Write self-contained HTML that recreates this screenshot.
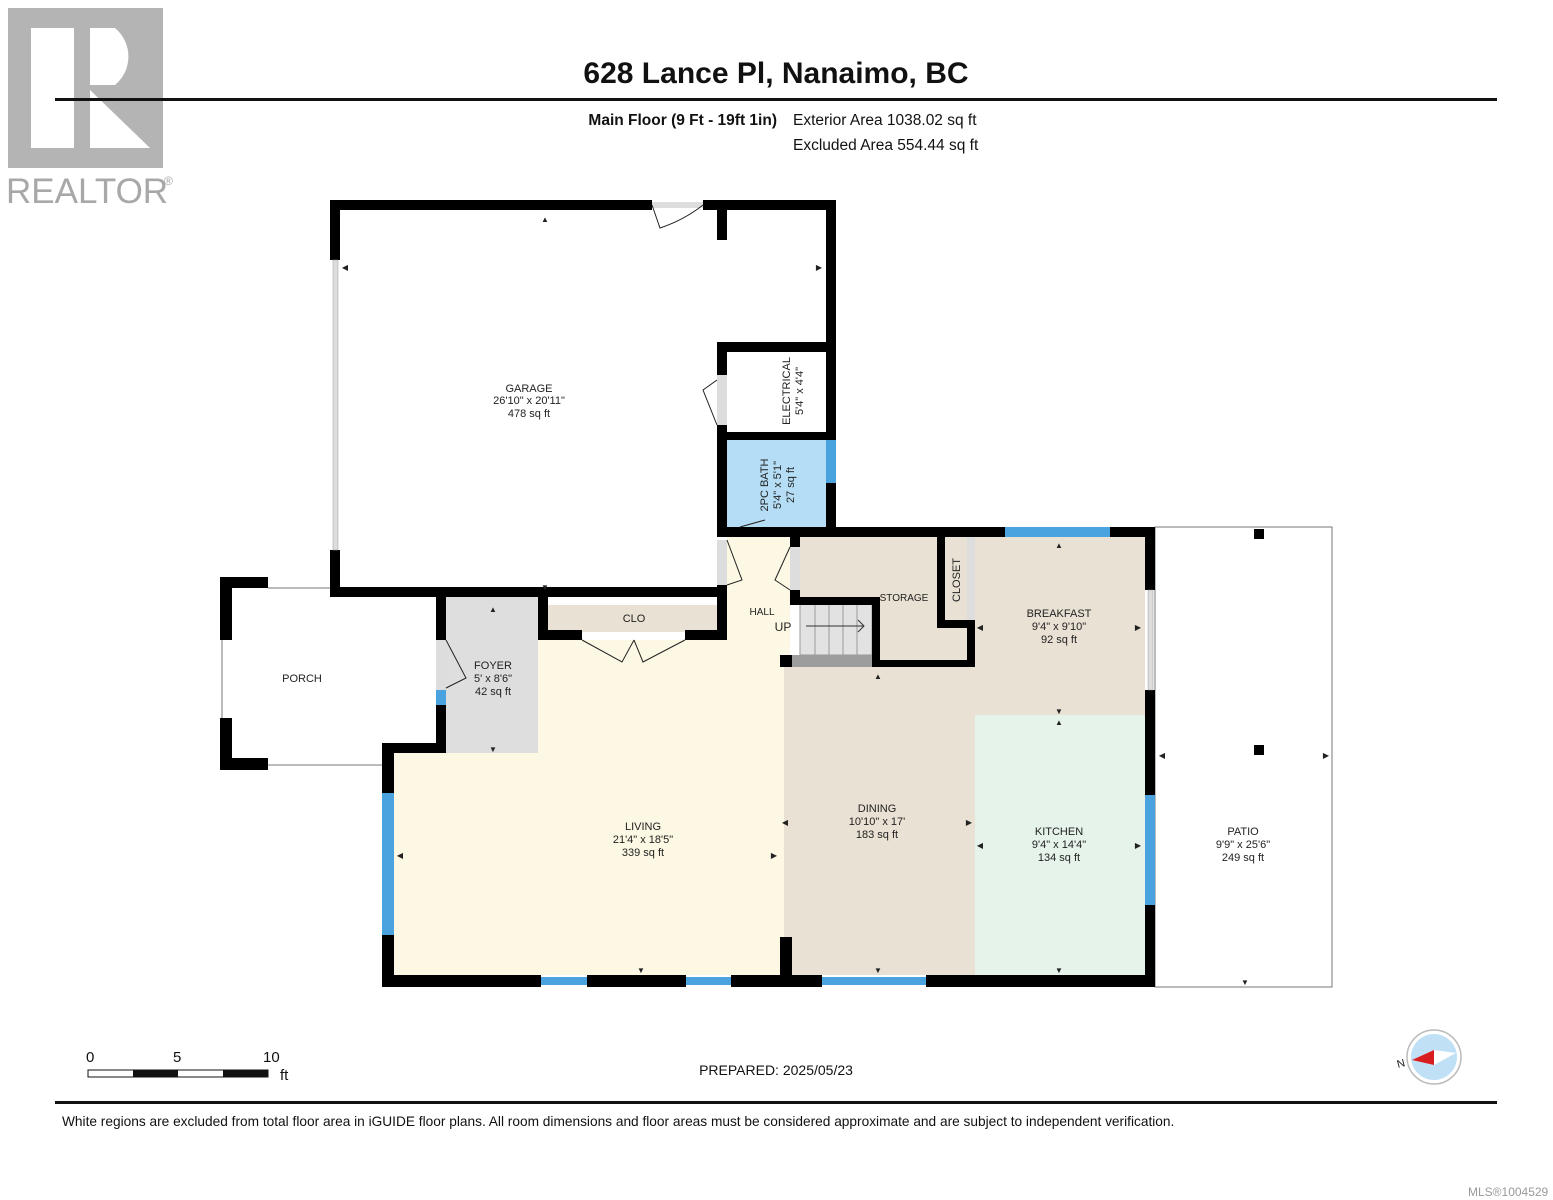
<!DOCTYPE html>
<html><head><meta charset="utf-8"><style>
html,body{margin:0;padding:0;background:#fff;}
svg{display:block;font-family:"Liberation Sans",Arial,sans-serif;}
</style></head><body>
<svg width="1553" height="1200" viewBox="0 0 1553 1200" xmlns="http://www.w3.org/2000/svg">
<rect width="1553" height="1200" fill="#fff"/>
<rect x="8" y="8" width="155" height="160" fill="#b4b4b4"/>
<rect x="31" y="28" width="43" height="120" fill="#fff"/>
<path d="M90 28 H115 A37 37 0 0 1 115 85 H90 Z" fill="#fff"/>
<path d="M90 90 L150 148 H90 Z" fill="#fff"/>
<text x="6" y="203" font-size="35" fill="#a8a8a8">REALTOR</text>
<text x="164" y="185" font-size="12" fill="#a8a8a8">®</text>
<text x="776" y="83" font-size="30" font-weight="bold" text-anchor="middle" fill="#111">628 Lance Pl, Nanaimo, BC</text>
<rect x="55" y="98" width="1442" height="3" fill="#111"/>
<text x="777" y="125" font-size="15.5" font-weight="bold" text-anchor="end" fill="#111">Main Floor (9 Ft - 19ft 1in)</text>
<text x="793" y="125" font-size="15.5" fill="#111">Exterior Area 1038.02 sq ft</text>
<text x="793" y="150" font-size="15.5" fill="#111">Excluded Area 554.44 sq ft</text>

<rect x="727" y="440" width="99" height="87" fill="#b5def6"/>
<rect x="394" y="753" width="390" height="222" fill="#fdf8e3"/>
<rect x="538" y="640" width="246" height="113" fill="#fdf8e3"/>
<rect x="727" y="537" width="63" height="128" fill="#fdf8e3"/>
<rect x="446" y="597" width="92" height="156" fill="#dedede"/>
<rect x="548" y="605" width="169" height="27" fill="#e9e1d3"/>
<rect x="784" y="667" width="191" height="308" fill="#e9e1d3"/>
<rect x="800" y="537" width="167" height="123" fill="#e9e1d3"/>
<rect x="975" y="537" width="170" height="178" fill="#e9e1d3"/>
<rect x="975" y="715" width="170" height="260" fill="#e6f3ea"/>
<rect x="800" y="600" width="72" height="55" fill="#e2e2e2" stroke="#999" stroke-width="1"/>
<g stroke="#999" stroke-width="1"><line x1="815" y1="600" x2="815" y2="655"/><line x1="829" y1="600" x2="829" y2="655"/><line x1="843" y1="600" x2="843" y2="655"/><line x1="857" y1="600" x2="857" y2="655"/></g>
<line x1="806" y1="626" x2="864" y2="626" stroke="#333" stroke-width="1"/>
<path d="M858 620 L864 626 L858 632" fill="none" stroke="#333"/>
<rect x="792" y="655" width="80" height="12" fill="#9d9d9d"/>
<rect x="780" y="655" width="12" height="12" fill="#000"/>

<rect x="1155" y="527" width="177" height="460" fill="none" stroke="#777" stroke-width="1"/>
<rect x="1254" y="529" width="10" height="10" fill="#000"/>
<rect x="1254" y="745" width="10" height="10" fill="#000"/>

<g fill="#000">
<rect x="220" y="577" width="48" height="11"/><rect x="220" y="577" width="12" height="63"/>
<rect x="220" y="718" width="12" height="52"/><rect x="220" y="758" width="48" height="12"/>
</g>
<g stroke="#777" stroke-width="1"><line x1="268" y1="588" x2="330" y2="588"/><line x1="222" y1="640" x2="222" y2="718"/><line x1="268" y1="765" x2="382" y2="765"/></g>

<g fill="#000">
<rect x="330" y="200" width="322" height="10"/>
<rect x="703" y="200" width="133" height="10"/>
<rect x="330" y="200" width="10" height="60"/>
<rect x="330" y="550" width="10" height="47"/>
<rect x="826" y="200" width="10" height="337"/>
<rect x="717" y="200" width="10" height="40"/>
<rect x="330" y="587" width="397" height="10"/>
<rect x="717" y="342" width="119" height="10"/>
<rect x="717" y="342" width="10" height="33"/>
<rect x="717" y="425" width="10" height="112"/>
<rect x="717" y="432" width="119" height="8"/>
<rect x="717" y="527" width="288" height="10"/>
<rect x="1110" y="527" width="45" height="10"/>
<rect x="1145" y="527" width="10" height="63"/>
<rect x="1145" y="690" width="10" height="105"/>
<rect x="1145" y="905" width="10" height="82"/>
<rect x="382" y="975" width="159" height="12"/>
<rect x="587" y="975" width="99" height="12"/>
<rect x="731" y="975" width="91" height="12"/>
<rect x="926" y="975" width="229" height="12"/>
<rect x="780" y="937" width="12" height="40"/>
<rect x="382" y="743" width="12" height="50"/>
<rect x="382" y="935" width="12" height="50"/>
<rect x="382" y="743" width="64" height="10"/>
<rect x="436" y="597" width="10" height="43"/>
<rect x="436" y="705" width="10" height="48"/>
<rect x="538" y="597" width="10" height="43"/>
<rect x="538" y="630" width="44" height="10"/>
<rect x="685" y="630" width="42" height="10"/>
<rect x="717" y="585" width="10" height="55"/>
<rect x="790" y="537" width="10" height="10"/>
<rect x="790" y="590" width="10" height="15"/>
<rect x="790" y="597" width="88" height="8"/>
<rect x="872" y="597" width="8" height="70"/>
<rect x="872" y="660" width="103" height="7"/>
<rect x="937" y="537" width="8" height="88"/>
<rect x="937" y="620" width="38" height="8"/>
<rect x="967" y="620" width="8" height="47"/>
</g>
<rect x="333" y="260" width="5" height="290" fill="#ddd" stroke="#999" stroke-width="0.5"/>
<rect x="826" y="440" width="10" height="43" fill="#4aa3de"/>
<rect x="1005" y="527" width="105" height="10" fill="#4aa3de"/>
<rect x="1145" y="795" width="10" height="110" fill="#4aa3de"/>
<rect x="1148" y="590" width="5" height="100" fill="#ddd" stroke="#999" stroke-width="0.5"/>
<rect x="382" y="793" width="12" height="142" fill="#4aa3de"/>
<rect x="541" y="977" width="46" height="8" fill="#4aa3de"/>
<rect x="686" y="977" width="45" height="8" fill="#4aa3de"/>
<rect x="822" y="977" width="104" height="8" fill="#4aa3de"/>
<rect x="436" y="690" width="10" height="15" fill="#4aa3de"/>
<rect x="436" y="640" width="10" height="50" fill="#ddd"/>
<rect x="717" y="375" width="10" height="50" fill="#ddd"/>
<rect x="717" y="540" width="10" height="45" fill="#ddd"/>
<rect x="790" y="547" width="10" height="43" fill="#ddd"/>
<rect x="967" y="537" width="8" height="83" fill="#ddd"/>
<rect x="652" y="202" width="51" height="6" fill="#ddd"/>
<g stroke="#222" stroke-width="1" fill="none">
<path d="M652 205 L660 228 Q684 220 703 205"/>
<path d="M717 380 L703 390 L717 425"/>
<path d="M727 540 L742 580 L727 585"/>
<path d="M790 547 L775 580 L790 590"/>
<path d="M446 640 L466 678 L446 688"/>
<path d="M582 640 L622 662 L634 640"/>
<path d="M685 640 L643 662 L634 640"/>
<path d="M740 527 L765 520"/>
</g>

<g font-size="11" text-anchor="middle" fill="#222">
<text x="529" y="392">GARAGE</text><text x="529" y="404">26'10" x 20'11"</text><text x="529" y="417">478 sq ft</text>
<text x="302" y="682">PORCH</text>
<text x="493" y="669">FOYER</text><text x="493" y="682">5' x 8'6"</text><text x="493" y="695">42 sq ft</text>
<text x="634" y="622">CLO</text>
<text x="762" y="615" font-size="10">HALL</text>
<text x="783" y="631" font-size="12">UP</text>
<text x="904" y="601" font-size="10">STORAGE</text>
<text x="1059" y="617">BREAKFAST</text><text x="1059" y="630">9'4" x 9'10"</text><text x="1059" y="643">92 sq ft</text>
<text x="643" y="830">LIVING</text><text x="643" y="843">21'4" x 18'5"</text><text x="643" y="856">339 sq ft</text>
<text x="877" y="812">DINING</text><text x="877" y="825">10'10" x 17'</text><text x="877" y="838">183 sq ft</text>
<text x="1059" y="835">KITCHEN</text><text x="1059" y="848">9'4" x 14'4"</text><text x="1059" y="861">134 sq ft</text>
<text x="1243" y="835">PATIO</text><text x="1243" y="848">9'9" x 25'6"</text><text x="1243" y="861">249 sq ft</text>
<text transform="translate(790 391) rotate(-90)">ELECTRICAL</text>
<text transform="translate(803 391) rotate(-90)">5'4" x 4'4"</text>
<text transform="translate(768 485) rotate(-90)">2PC BATH</text>
<text transform="translate(781 485) rotate(-90)">5'4" x 5'1"</text>
<text transform="translate(794 485) rotate(-90)">27 sq ft</text>
<text transform="translate(960 580) rotate(-90)">CLOSET</text>
</g>
<g font-size="8" fill="#222" text-anchor="middle">
<text x="545" y="222">▲</text><text x="545" y="590">▼</text><text x="345" y="270">◀</text><text x="819" y="270">▶</text>
<text x="493" y="612">▲</text><text x="493" y="752">▼</text>
<text x="1059" y="548">▲</text><text x="1059" y="714">▼</text><text x="1059" y="725">▲</text><text x="1059" y="973">▼</text>
<text x="878" y="679">▲</text><text x="878" y="973">▼</text><text x="785" y="825">◀</text><text x="969" y="825">▶</text>
<text x="641" y="973">▼</text><text x="400" y="858">◀</text><text x="774" y="858">▶</text>
<text x="980" y="848">◀</text><text x="1138" y="848">▶</text><text x="980" y="630">◀</text><text x="1138" y="630">▶</text>
<text x="1162" y="758">◀</text><text x="1326" y="758">▶</text><text x="1245" y="985">▼</text>
</g>

<g font-size="15" fill="#111">
<text x="86" y="1062">0</text><text x="173" y="1062">5</text><text x="263" y="1062">10</text><text x="280" y="1080">ft</text>
</g>
<rect x="88" y="1070" width="180" height="7" fill="#fff" stroke="#111" stroke-width="1"/>
<rect x="133" y="1070" width="45" height="7" fill="#111"/>
<rect x="223" y="1070" width="45" height="7" fill="#111"/>
<text x="776" y="1075" font-size="14" text-anchor="middle" fill="#111">PREPARED: 2025/05/23</text>
<circle cx="1434" cy="1057" r="27" fill="#fff" stroke="#bbb" stroke-width="1.5"/>
<circle cx="1434" cy="1057" r="23" fill="#bfe0f5"/>
<path d="M1412 1060 L1434 1050 L1456 1053 L1434 1065 Z" fill="#fff"/>
<path d="M1412 1060 L1434 1050 L1434 1065 Z" fill="#d81e1e"/>
<text x="1398" y="1068" font-size="11" fill="#222" transform="rotate(-15 1398 1068)">N</text>
<rect x="55" y="1101" width="1442" height="3" fill="#111"/>
<text x="62" y="1126" font-size="13.7" fill="#111">White regions are excluded from total floor area in iGUIDE floor plans. All room dimensions and floor areas must be considered approximate and are subject to independent verification.</text>
<text x="1468" y="1196" font-size="12" fill="#999">MLS®1004529</text>
</svg>
</body></html>
